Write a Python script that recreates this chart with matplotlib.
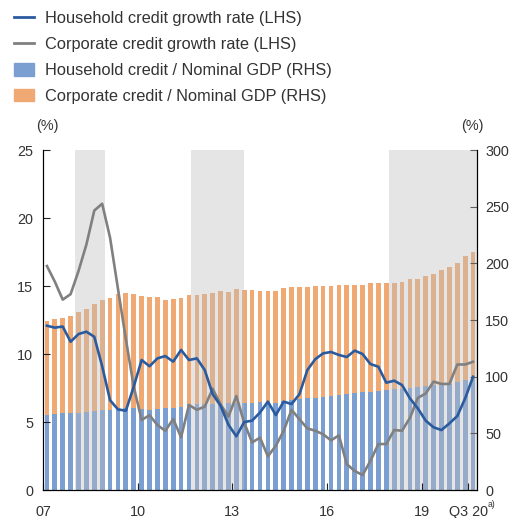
import numpy as np
import matplotlib
matplotlib.use("Agg")
import matplotlib.pyplot as plt
from matplotlib.patches import Patch
from matplotlib.lines import Line2D
from matplotlib.transforms import blended_transform_factory

plt.rcParams["font.family"] = ["Liberation Sans", "DejaVu Sans"]

# quarterly, 2007 Q1 .. 2020 Q3
hh_growth = [12.08, 11.94, 12.02, 10.9, 11.47, 11.64, 11.27, 9.1, 6.6, 5.93,
             5.83, 7.6, 9.56, 9.1, 9.68, 9.85, 9.44, 10.3, 9.56, 9.68,
             8.82, 7.05, 6.2, 4.8, 3.95, 5.0, 5.1, 5.7, 6.5, 5.51,
             6.5, 6.32, 7.05, 8.82, 9.62, 10.05, 10.15, 9.93, 9.78, 10.25,
             10.0, 9.26, 9.07, 7.89, 8.04, 7.72, 6.74, 6.0, 5.1, 4.61,
             4.41, 4.9, 5.44, 6.74, 8.33]
corp_growth = [16.47, 15.32, 14.0, 14.4, 16.1, 18.05, 20.55, 21.05, 18.55, 14.8,
               11.1, 7.6, 5.15, 5.5, 4.78, 4.35, 5.22, 3.88, 6.25, 5.9,
               6.13, 7.45, 6.3, 5.4, 6.91, 4.95, 3.5, 3.85, 2.48, 3.25,
               4.35, 5.9, 5.2, 4.53, 4.36, 4.1, 3.65, 4.02, 1.9, 1.4,
               1.1, 2.15, 3.38, 3.38, 4.41, 4.36, 5.3, 6.77, 7.1, 7.97,
               7.8, 7.8, 9.23, 9.23, 9.43]
hh_gdp = [66, 67, 67.6, 68.2, 68.2, 69, 70, 70.6, 70.2, 71.2,
          72, 72, 71.2, 71, 71.8, 72, 72.6, 73.5, 75.6, 75.6,
          75.6, 75.6, 75, 76.5, 76.5, 76.5, 76.5, 78, 77.5, 77,
          78.5, 79.7, 80.3, 81, 81.5, 82.4, 83, 83.5, 84.4, 85.5,
          86.2, 86.8, 87.4, 88.2, 89.1, 89.3, 89.8, 90.6, 91.8, 92.6,
          92.8, 93.5, 95, 97, 98.5]
corp_gdp = [83, 83.6, 84.4, 85.3, 88.8, 91, 94, 97, 99.5, 101.8,
            101.5, 100.6, 99.8, 99.6, 98.2, 95.6, 95.9, 96.2, 96.4, 96.4,
            97, 98.4, 100.6, 98.2, 100.5, 100.3, 100, 97.3, 98.5, 99,
            99.7, 99.3, 98.7, 98, 98.8, 97.9, 97.3, 97.5, 96.6, 95.5,
            94.8, 96.2, 94.9, 94.1, 93.9, 94.2, 96.2, 95.9, 97, 98.4,
            101.2, 103.3, 105, 109.5, 111.8]
# shaded periods, in quarter index units
shades = [(3.6, 7.4), (18.3, 25.0), (43.3, 54.5)]
tick_pos = [-0.5, 11.5, 23.5, 35.5, 47.5, 53.4]
tick_lbl = ["07", "10", "13", "16", "19", "Q3 20"]

C_HH_LINE = "#2a5b9f"
C_CO_LINE = "#808080"
C_HH_BAR = "#7b9fd1"
C_CO_BAR = "#f0a972"
C_TXT = "#333333"

x = np.arange(len(hh_growth))

fig = plt.figure(figsize=(5.10, 5.18), dpi=100)
ax = fig.add_axes([0.0843, 0.054, 0.8510, 0.6564])
ax2 = ax.twinx()

# bars on the right axis (drawn behind)
ax2.bar(x, hh_gdp, width=0.6, color=C_HH_BAR, zorder=1)
ax2.bar(x, corp_gdp, width=0.6, bottom=hh_gdp, color=C_CO_BAR, zorder=1)
for a, b in shades:
    ax2.axvspan(a, b, color="#bfbfbf", alpha=0.4, lw=0, zorder=2)
ax2.set_ylim(0, 300)
ax2.set_yticks(range(0, 301, 50))

# lines on the left axis in front
ax.set_zorder(ax2.get_zorder() + 1)
ax.patch.set_visible(False)
ax.plot(x, corp_growth, color=C_CO_LINE, lw=1.9)
ax.plot(x, hh_growth, color=C_HH_LINE, lw=1.9)
ax.set_ylim(0, 25)
ax.set_xlim(-0.5, 54.5)
ax.set_yticks(range(0, 26, 5))
ax.set_xticks(tick_pos)
ax.set_xticklabels(tick_lbl)

for a in (ax, ax2):
    a.spines["top"].set_visible(False)
    a.tick_params(direction="in", length=5, labelsize=10.4, colors="#222222",
                  labelcolor=C_TXT)
ax.tick_params(axis="x", pad=11)
ax.tick_params(axis="y", pad=7)
ax2.tick_params(axis="y", pad=6)

# footnote mark after the last tick label
trans = blended_transform_factory(ax.transData, ax.transAxes)
ax.text(55.85, -0.043, "a)", transform=trans, ha="left", va="center",
        fontsize=6.2, color=C_TXT, clip_on=False)

ax.text(0.01, 1.072, "(%)", transform=ax.transAxes, ha="center",
        va="center", fontsize=10.4, color=C_TXT)
ax.text(0.99, 1.072, "(%)", transform=ax.transAxes, ha="center",
        va="center", fontsize=10.4, color=C_TXT)

handles = [Line2D([], [], color=C_HH_LINE, lw=2),
           Line2D([], [], color=C_CO_LINE, lw=2),
           Patch(color=C_HH_BAR),
           Patch(color=C_CO_BAR)]
labels = ["Household credit growth rate (LHS)",
          "Corporate credit growth rate (LHS)",
          "Household credit / Nominal GDP (RHS)",
          "Corporate credit / Nominal GDP (RHS)"]
fig.legend(handles, labels, loc="upper left", bbox_to_anchor=(0.0275, 0.978),
           frameon=False, fontsize=11.8, handlelength=1.2, handleheight=0.8,
           handletextpad=0.68, labelspacing=0.66, borderpad=0,
           borderaxespad=0, labelcolor=C_TXT)

fig.savefig("out.png", dpi=100)
